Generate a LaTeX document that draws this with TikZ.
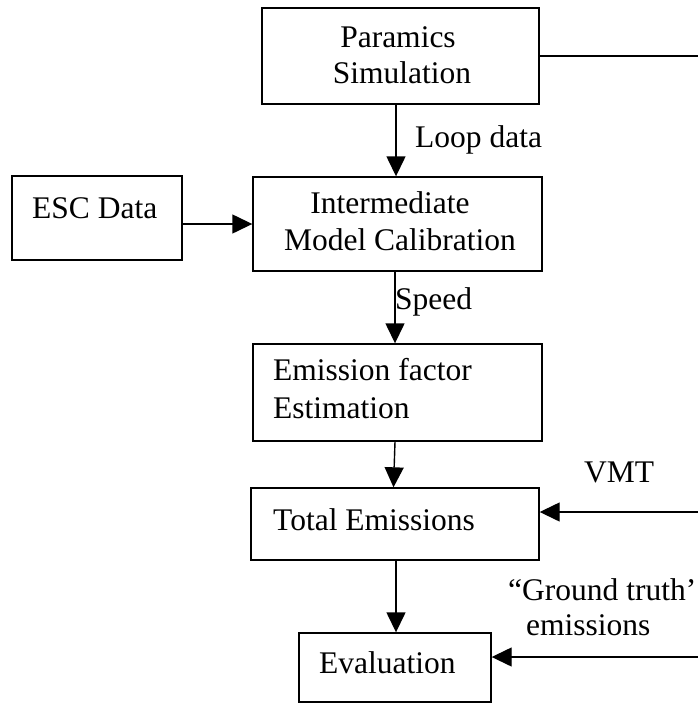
\documentclass[tikz,border=0pt]{standalone}
\usepackage{fontspec}
\setmainfont{Liberation Serif}
\usetikzlibrary{arrows.meta}
\begin{document}
\begin{tikzpicture}[x=1pt,y=-1pt,
  box/.style={draw, line width=1.4pt, inner sep=0pt, rectangle},
  lbl/.style={font=\fontsize{31.5}{37}\selectfont, inner sep=0pt, anchor=base west},
  lblc/.style={font=\fontsize{31.5}{37}\selectfont, inner sep=0pt, anchor=base},
  arr/.style={line width=1.4pt, -{Triangle[length=20pt,width=19pt]}},
  ln/.style={line width=1.4pt}]
\useasboundingbox (0,0) rectangle (698,704);

% boxes
\node[box, minimum width=277pt, minimum height=96pt] (par) at (400.5,56) {};
\node[box, minimum width=289pt, minimum height=94pt] (int) at (397.5,224) {};
\node[box, minimum width=170pt, minimum height=84pt] (esc) at (97,218) {};
\node[box, minimum width=289pt, minimum height=97pt] (emi) at (397.5,392.5) {};
\node[box, minimum width=288pt, minimum height=72pt] (tot) at (395,524) {};
\node[box, minimum width=192pt, minimum height=69pt] (eva) at (395,667.5) {};

% box texts
\node[lblc] (t1) at (398,47) {Paramics};
\node[lblc] (t2) at (402,83) {Simulation};
\node[lblc] (t3) at (390,213) {Intermediate};
\node[lblc] (t4) at (400,250) {Model Calibration};
\node[lbl] (t5) at (32,218) {ESC Data};
\node[lbl] (t6) at (273,380) {Emission factor};
\node[lbl] (t7) at (273,418) {Estimation};
\node[lbl] (t8) at (273,530) {Total Emissions};
\node[lbl] (t9) at (319,673) {Evaluation};

% connector labels
\node[lbl] (l1) at (415,147) {Loop data};
\node[lbl] (l2) at (395,309) {Speed};
\node[lbl] (l3) at (584,482) {VMT};
\node[lbl] (l4) at (508,600) {“Ground truth’};
\node[lbl] (l5) at (526,635) {emissions};

% free ends
\coordinate (r1) at (698,56);
\coordinate (r2) at (698,512);
\coordinate (r3) at (698,657);

% connectors
\draw[ln] (par.east) -- (r1);
\draw[arr] ([xshift=-4.5pt]par.south) -- ([xshift=-1.5pt]int.north);
\draw[arr] (esc.east |- int.west) -- (int.west);
\draw[arr] ([xshift=-2.5pt]int.south) -- ([xshift=-2.5pt]emi.north);
\draw[arr] ([xshift=-2.5pt]emi.south) -- ([xshift=-1.5pt]tot.north);
\draw[arr] (r2) -- (tot.east |- r2);
\draw[arr] ([xshift=1pt]tot.south) -- ([xshift=1pt]eva.north);
\draw[arr] (r3) -- (eva.east |- r3);
\end{tikzpicture}
\end{document}
